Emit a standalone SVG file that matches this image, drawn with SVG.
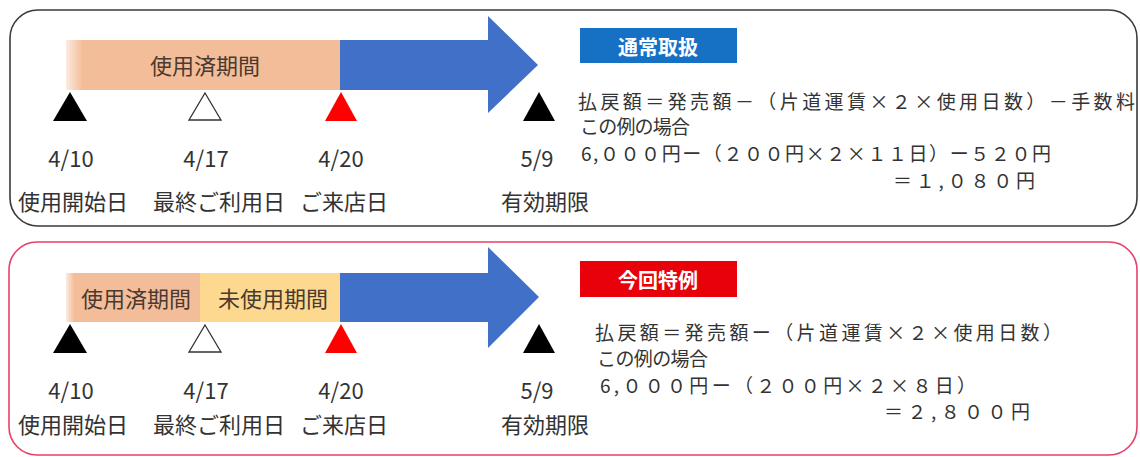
<svg xmlns="http://www.w3.org/2000/svg" width="1140" height="457" viewBox="0 0 1140 457">
<style>
text{font-family:"Noto Sans CJK JP","Noto Sans",sans-serif;fill:#333;dominant-baseline:central}
.lbl{font-size:22px;text-anchor:middle}
.bar{font-size:22px;text-anchor:middle;fill:#4a3a30}
.f{font-size:19px}
.tag{font-size:20px;font-weight:bold;fill:#fff;text-anchor:middle}
.arrow{fill:#4170c8}
.blk{fill:#000}
.red{fill:#f00}
.wht{fill:#fff;stroke:#333;stroke-width:1.3}
</style>
<defs>
<linearGradient id="peachFade" x1="0" x2="1" y1="0" y2="0">
<stop offset="0" stop-color="#f4bd9a" stop-opacity="0.3"/>
<stop offset="0.06" stop-color="#f4bd9a"/>
<stop offset="1" stop-color="#f4bd9a"/>
</linearGradient>
</defs>
<rect width="1140" height="457" fill="#fff"/>

<g id="panel-normal">
<rect x="10" y="10" width="1127" height="216" rx="28" fill="#fff" stroke="#3a3a3a" stroke-width="1.6"/>
<rect x="66" y="40" width="275" height="50" fill="url(#peachFade)"/>
<text class="bar" x="205" y="64">使用済期間</text>
<path class="arrow" d="M340,40 H488 V16 L538,65 L488,113 V90 H340 Z"/>
<polygon class="blk" points="70,92 87,121 53,121"/>
<polygon class="wht" points="205,93 221,120 189,120"/>
<polygon class="red" points="341,92 357,121 325,121"/>
<polygon class="blk" points="539,92 555,121 523,121"/>
<text class="lbl" x="71" y="157">4/10</text>
<text class="lbl" x="206" y="157">4/17</text>
<text class="lbl" x="341" y="157">4/20</text>
<text class="lbl" x="537" y="157">5/9</text>
<text class="lbl" x="73" y="200">使用開始日</text>
<text class="lbl" x="219" y="200">最終ご利用日</text>
<text class="lbl" x="344" y="200">ご来店日</text>
<text class="lbl" x="545" y="200">有効期限</text>
<rect x="580" y="28" width="157" height="35" fill="#1670c4"/>
<text class="tag" x="658" y="46">通常取扱</text>
<text class="f" x="578" y="100" textLength="557">払戻額＝発売額－（片道運賃×２×使用日数）－手数料</text>
<text class="f" x="580" y="125" textLength="110">この例の場合</text>
<text class="f" x="581" y="152" textLength="470">6,０００円ー（２００円×２×１１日）ー５２０円</text>
<text class="f" x="893" y="179" textLength="142">＝１,０８０円</text>
</g>

<g id="panel-special">
<rect x="9" y="242" width="1128" height="213" rx="28" fill="#fff" stroke="#e8406a" stroke-width="1.6"/>
<rect x="66" y="273" width="136" height="49" fill="url(#peachFade)"/>
<rect x="200" y="273" width="141" height="49" fill="#fcd98e"/>
<text class="bar" x="136" y="297">使用済期間</text>
<text class="bar" x="273" y="297">未使用期間</text>
<path class="arrow" d="M340,273 H488 V247 L539,297 L488,348 V322 H340 Z"/>
<polygon class="blk" points="70,324 87,353 53,353"/>
<polygon class="wht" points="205,325 221,352 189,352"/>
<polygon class="red" points="341,324 357,353 325,353"/>
<polygon class="blk" points="539,324 555,353 523,353"/>
<text class="lbl" x="71" y="389">4/10</text>
<text class="lbl" x="206" y="389">4/17</text>
<text class="lbl" x="341" y="389">4/20</text>
<text class="lbl" x="537" y="389">5/9</text>
<text class="lbl" x="73" y="423">使用開始日</text>
<text class="lbl" x="219" y="423">最終ご利用日</text>
<text class="lbl" x="344" y="423">ご来店日</text>
<text class="lbl" x="545" y="423">有効期限</text>
<rect x="580" y="261" width="157" height="36" fill="#e8000b"/>
<text class="tag" x="658" y="279">今回特例</text>
<text class="f" x="595" y="331" textLength="467">払戻額＝発売額ー（片道運賃×２×使用日数）</text>
<text class="f" x="597" y="357" textLength="111">この例の場合</text>
<text class="f" x="600" y="384" textLength="376">6,０００円ー（２００円×２×８日）</text>
<text class="f" x="884" y="410" textLength="146">＝２,８００円</text>
</g>

<g id="connectors"></g>
</svg>
